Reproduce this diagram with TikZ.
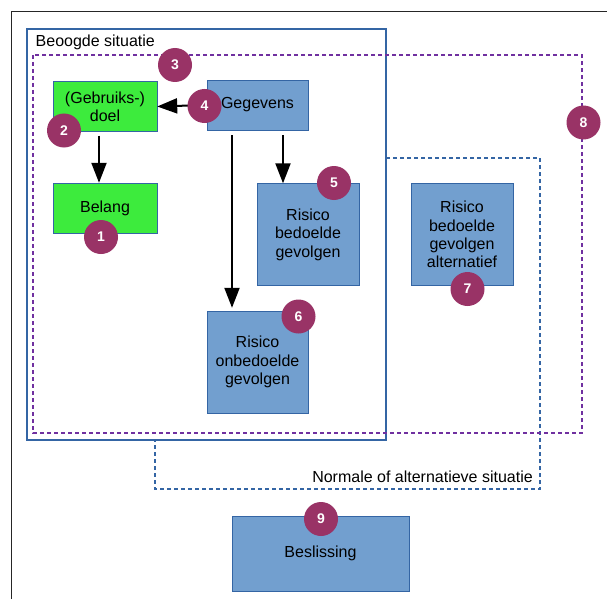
\documentclass[tikz,border=0pt]{standalone}
\usepackage{fontspec}
\setmainfont{Liberation Sans}
\usetikzlibrary{arrows.meta}
\definecolor{boxblue}{HTML}{729FCF}
\definecolor{lineblue}{HTML}{3465A4}
\definecolor{boxgreen}{HTML}{3DEB3D}
\definecolor{badgered}{HTML}{993366}
\definecolor{framepurple}{HTML}{7030A0}

\begin{document}
\begin{tikzpicture}[
  x=1pt, y=-1pt,
  font=\fontsize{16}{18.4}\selectfont,
  goal/.style={rectangle, draw=lineblue, fill=boxgreen, minimum width=104pt, minimum height=50pt, align=center, inner sep=0pt},
  info/.style={rectangle, draw=lineblue, fill=boxblue, minimum width=102pt, minimum height=102pt, align=center, inner sep=0pt},
  badge/.style={circle, fill=badgered, text=white, minimum size=34pt, inner sep=0pt, font=\fontsize{14}{14}\selectfont\bfseries},
  situation/.style={draw=lineblue, fill=white, line width=2pt},
  dashbox/.style={line width=2pt, dash pattern=on 4pt off 3pt},
  flow/.style={draw, line width=2pt, -{Triangle[length=20pt,width=15pt]}}
]
\useasboundingbox (0,0) rectangle (607,599);
\draw[line width=1pt, black!85] (11,599) -- (11,12) -- (607,12);

\draw[dashbox, draw=lineblue] (155,158) rectangle (540,489);
\node[anchor=base east, inner sep=0pt] (normaallabel) at (533,482) {Normale of alternatieve situatie};
\draw[situation] (27,29) rectangle (386,440);
\node[anchor=base west, inner sep=0pt] (beoogdlabel) at (35.5,47) {Beoogde situatie};
\draw[dashbox, draw=framepurple] (33,55) rectangle (582,433);

\node[goal] (doel) at (105,106.5) {(Gebruiks-)\\doel};
\node[goal] (belang) at (105,208) {Belang};
\node[info, minimum width=101pt, minimum height=50pt] (gegevens) at (257.5,105) {Gegevens};
\node[info] (bedoeld) at (308,234.5) {Risico\\bedoelde\\gevolgen};
\node[info, minimum width=101pt] (onbedoeld) at (257.5,362) {Risico\\onbedoelde\\gevolgen};
\node[info] (alternatief) at (462,234.5) {Risico\\bedoelde\\gevolgen\\alternatief};
\node[info, minimum width=177pt, minimum height=75pt] (beslissing) at (320.5,553.5) {Beslissing};

\draw[flow] (gegevens.west) -- (doel.east);
\draw[flow, shorten <=4pt] ([xshift=-6pt]doel.south) -- ([xshift=-6pt]belang.north);
\draw[flow, shorten <=5pt] ([xshift=25.5pt]gegevens.south) -- ([xshift=25.5pt]gegevens.south |- bedoeld.north);
\draw[flow, shorten <=5pt, shorten >=3pt] ([xshift=-25.5pt]gegevens.south) -- ([xshift=-25.5pt]onbedoeld.north);

\node[badge] (b1) at (101,237) {1};
\node[badge] (b2) at (64,130.5) {2};
\node[badge] (b3) at (175,65) {3};
\node[badge] (b4) at (204.5,106) {4};
\node[badge] (b5) at (334,183) {5};
\node[badge] (b6) at (298.5,316.5) {6};
\node[badge] (b7) at (467.5,289) {7};
\node[badge] (b8) at (583.5,122.5) {8};
\node[badge] (b9) at (321,519) {9};
\end{tikzpicture}
\end{document}
